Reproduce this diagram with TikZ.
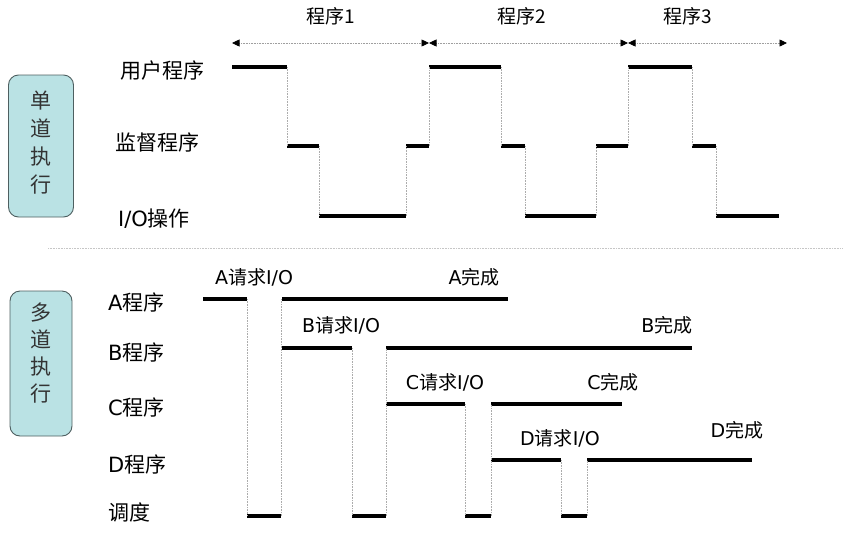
\documentclass[tikz,border=0pt]{standalone}
\usepackage{fontspec}
\setmainfont{Noto Sans CJK SC}
\newfontfamily\lat{DejaVu Sans}
\usetikzlibrary{arrows.meta}
\definecolor{boxfill}{HTML}{BAE2E4}
\definecolor{boxline}{HTML}{4E5F60}
\begin{document}
\begin{tikzpicture}[x=1pt,y=-1pt,
  sig/.style={line width=3.3pt},
  drop/.style={draw=gray!65,line width=0.8pt,dash pattern=on 0.8pt off 0.8pt},
  spanline/.style={draw=gray!75,line width=0.7pt,dash pattern=on 0.8pt off 0.8pt,
     {Triangle[length=7.5pt,width=7pt,color=black]}-{Triangle[length=7.5pt,width=7pt,color=black]}},
  modebox/.style={draw=boxline,fill=boxfill,rounded corners=10pt,line width=0.9pt},
  rowlab/.style={anchor=west,inner sep=0pt,font=\fontsize{21}{24}\selectfont},
  smalllab/.style={inner sep=0pt,font=\fontsize{19}{22}\selectfont},
  boxtext/.style={inner sep=0pt,align=center,text=black!80}
]
\path[use as bounding box] (0,0) rectangle (860,547);

% ---------------- single-program part ----------------
\node[modebox,minimum width=65pt,minimum height=142pt] (singlebox) at (41,146) {};
\node[boxtext,font=\fontsize{21}{28}\selectfont] (singletext) at (41,143) {单\\道\\执\\行};

\node[rowlab] (lu) at (120,71) {用户程序};
\node[rowlab] (ls) at (115,142) {监督程序};
\node[rowlab] (li) at (118,219) {{\lat I/O}操作};

\node[smalllab] (p1) at (331,16) {程序1};
\node[smalllab] (p2) at (522,16) {程序2};
\node[smalllab] (p3) at (688,16) {程序3};

\coordinate (s0) at (232,43);
\coordinate (s1) at (429,43);
\coordinate (s2) at (628,43);
\coordinate (s3) at (787,43);
\draw[spanline] (s0) -- (s1);
\draw[spanline] (s1) -- (s2);
\draw[spanline] (s2) -- (s3);

% time trace (single)
\foreach \xa/\xb/\yy in {232/287/67,287/319/146,319/406/216,406/429/146,429/501/67,
                         501/525/146,525/596/216,596/628/146,628/692/67,692/716/146,716/779/216}
  \draw[sig] (\xa,\yy) -- (\xb,\yy);
\foreach \xx/\ya/\yb in {287/67/146,319/146/216,406/216/146,429/146/67,501/67/146,
                         525/146/216,596/216/146,628/146/67,692/67/146,716/146/216}
  \draw[drop] (\xx,\ya) -- (\xx,\yb);

% separator
\coordinate (sepL) at (48,248);
\coordinate (sepR) at (842,248);
\draw[draw=gray!45,line width=0.8pt,dash pattern=on 0.8pt off 0.8pt] (sepL) -- (sepR);

% ---------------- multi-program part ----------------
\node[modebox,minimum width=62pt,minimum height=145pt] (multibox) at (41,363.5) {};
\node[boxtext,font=\fontsize{21}{26.7}\selectfont] (multitext) at (41,353) {多\\道\\执\\行};

\node[rowlab] (la) at (108,302) {{\lat A}程序};
\node[rowlab] (lb) at (108,352) {{\lat B}程序};
\node[rowlab] (lc) at (108,407) {{\lat C}程序};
\node[rowlab] (ld) at (108,464) {{\lat D}程序};
\node[rowlab] (lsch) at (108,512) {调度};

\node[smalllab] (ra) at (254,277) {{\lat A}请求{\lat I/O}};
\node[smalllab] (rb) at (341,325) {{\lat B}请求{\lat I/O}};
\node[smalllab] (rc) at (445,382) {{\lat C}请求{\lat I/O}};
\node[smalllab] (rd) at (560,438) {{\lat D}请求{\lat I/O}};
\node[smalllab] (fa) at (474,277) {{\lat A}完成};
\node[smalllab] (fb) at (667,325) {{\lat B}完成};
\node[smalllab] (fc) at (613,382) {{\lat C}完成};
\node[smalllab] (fd) at (737,430) {{\lat D}完成};

% thick segments
\foreach \xa/\xb/\yy in {203/247/299,247/281/516,282/508/299,
                         282/352/348,352/386/516,386/692/348,
                         386/465/404,465/491/516,491/622/404,
                         491/561/460,561/587/516,587/752/460}
  \draw[sig] (\xa,\yy) -- (\xb,\yy);
% dotted switches
\foreach \xx/\ya/\yb in {247/299/516,281/516/299,352/348/516,386/516/348,
                         465/404/516,491/516/404,561/460/516,587/516/460}
  \draw[drop] (\xx,\ya) -- (\xx,\yb);
\end{tikzpicture}
\end{document}
